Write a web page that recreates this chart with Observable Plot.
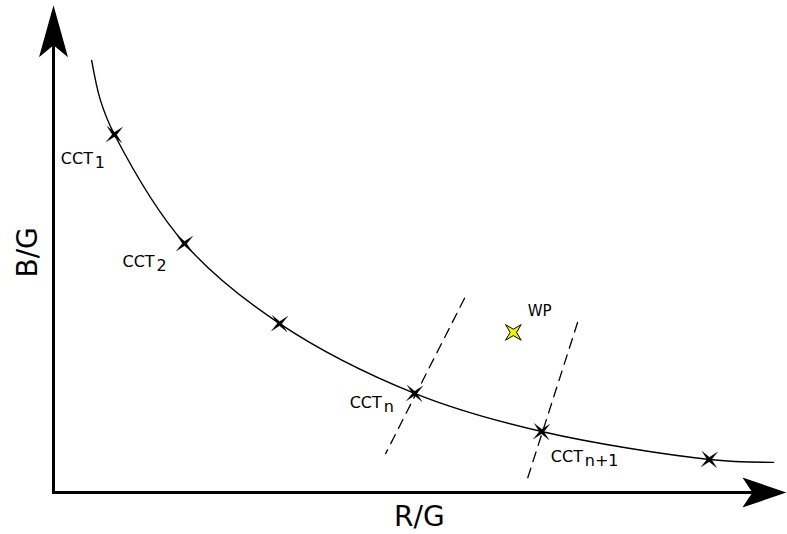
<!DOCTYPE html>
<html>
<head>
<meta charset="utf-8">
<script src="https://cdn.jsdelivr.net/npm/d3@7"></script>
<script src="https://cdn.jsdelivr.net/npm/@observablehq/plot@0.6"></script>
<style>
  html, body { margin: 0; padding: 0; background: #ffffff; }
  #chart svg { display: block; }
</style>
</head>
<body>
<div id="chart"></div>
<script>
// Planckian-locus style curve in R/G – B/G space
const curveRG = [0.104, 0.128, 0.166, 0.357, 0.616, 0.984, 1.330, 1.787, 1.962];
const curveBG = [1.177, 1.068, 0.975, 0.678, 0.460, 0.270, 0.166, 0.090, 0.082];

// CCT sample points on the curve
const markRG = [0.166, 0.357, 0.616, 0.984, 1.330, 1.787];
const markBG = [0.975, 0.678, 0.460, 0.270, 0.166, 0.090];

// Labels of the CCT points (main text + subscript)
const labelMain = ["CCT", "CCT", "CCT", "CCT"];
const labelSub = ["1", "2", "n", "n+1"];
const labelRG = [0.020, 0.188, 0.807, 1.355];
const labelBG = [0.896, 0.613, 0.229, 0.082];

// White point
const wpRG = [1.253];
const wpBG = [0.436];
const wpText = ["WP"];
const wpLabelRG = [1.292];
const wpLabelBG = [0.480];

// Iso-temperature (dashed) lines through CCT_n and CCT_n+1
const isoName = ["n", "n", "n+1", "n+1"];
const isoRG = [1.120, 0.905, 1.428, 1.289];
const isoBG = [0.529, 0.106, 0.463, 0.030];

// Axes
const axisTitleX = "R/G";
const axisTitleY = "B/G";
const xMax = 1.997;
const yMax = 1.327;

const curve = curveRG.map((x, i) => ({x, y: curveBG[i]}));
const marks = markRG.map((x, i) => ({x, y: markBG[i]}));
const labels = labelMain.map((t, i) => ({t, s: labelSub[i], x: labelRG[i], y: labelBG[i]}));
const wp = wpRG.map((x, i) => ({x, y: wpBG[i]}));
const wpLab = wpText.map((t, i) => ({t, x: wpLabelRG[i], y: wpLabelBG[i]}));
const iso = isoName.map((z, i) => ({z, x: isoRG[i], y: isoBG[i]}));

function star(R, r, rot) {
  return {
    draw(context) {
      for (let k = 0; k < 8; ++k) {
        const a = (k * 45 + 45 + rot) * Math.PI / 180;
        const rad = k % 2 === 0 ? R : r;
        const px = rad * Math.cos(a), py = rad * Math.sin(a);
        if (k === 0) context.moveTo(px, py); else context.lineTo(px, py);
      }
      context.closePath();
    }
  };
}
// arrow head pointing up, tip at the origin
function arrowHead(len, half, notch) {
  return {
    draw(context) {
      context.moveTo(0, 0);
      context.lineTo(half, len);
      context.lineTo(0, notch);
      context.lineTo(-half, len);
      context.closePath();
    }
  };
}

const font = "DejaVu Sans";

const chart = Plot.plot({
  width: 787,
  height: 534,
  marginLeft: 53,
  marginRight: 0,
  marginTop: 0,
  marginBottom: 42,
  x: {domain: [0, 2], axis: null},
  y: {domain: [0, 1.34], axis: null},
  style: {fontFamily: font, background: "#ffffff", color: "#000000"},
  marks: [
    // axes
    Plot.link([{x1: 0, y1: 0, x2: 0, y2: yMax - 0.06}], {x1: "x1", y1: "y1", x2: "x2", y2: "y2", stroke: "#000", strokeWidth: 3, strokeLinecap: "square"}),
    Plot.link([{x1: 0, y1: 0, x2: xMax - 0.06, y2: 0}], {x1: "x1", y1: "y1", x2: "x2", y2: "y2", stroke: "#000", strokeWidth: 3, strokeLinecap: "square"}),
    Plot.dot([{x: 0, y: yMax}], {x: "x", y: "y", symbol: arrowHead(52, 14.5, 40), fill: "#000", stroke: "none"}),
    Plot.dot([{x: xMax, y: 0}], {x: "x", y: "y", symbol: arrowHead(44, 15, 34), rotate: 90, fill: "#000", stroke: "none"}),
    // dashed iso lines
    Plot.line(iso, {x: "x", y: "y", z: "z", stroke: "#000", strokeWidth: 1.3, strokeDasharray: "10,7"}),
    // locus curve
    Plot.line(curve, {x: "x", y: "y", curve: "catmull-rom", stroke: "#000", strokeWidth: 1.4}),
    // CCT markers
    Plot.dot(marks, {x: "x", y: "y", symbol: star(11, 2.2, 3), fill: "#000", stroke: "#000", strokeWidth: 0.3}),
    // white point
    Plot.dot(wp, {x: "x", y: "y", symbol: star(11, 3.2, 0), fill: "#f2f200", stroke: "#000", strokeWidth: 1}),
    // labels
    Plot.text(labels, {x: "x", y: "y", text: "t", textAnchor: "start", lineAnchor: "bottom", fontSize: 16, fill: "#000"}),
    Plot.text(labels, {x: "x", y: "y", text: "s", textAnchor: "start", lineAnchor: "bottom", fontSize: 16, dx: 34, dy: 4, fill: "#000"}),
    Plot.text(wpLab, {x: "x", y: "y", text: "t", textAnchor: "start", lineAnchor: "bottom", fontSize: 15, fill: "#000"}),
    // axis titles
    Plot.text([axisTitleX], {x: 0.997, y: -0.090, text: d => d, textAnchor: "middle", lineAnchor: "bottom", fontSize: 28, fill: "#000"}),
    Plot.text([axisTitleY], {x: -0.044, y: 0.654, text: d => d, rotate: -90, textAnchor: "middle", lineAnchor: "bottom", fontSize: 28, fill: "#000"})
  ]
});
document.getElementById("chart").appendChild(chart);
</script>
</body>
</html>
